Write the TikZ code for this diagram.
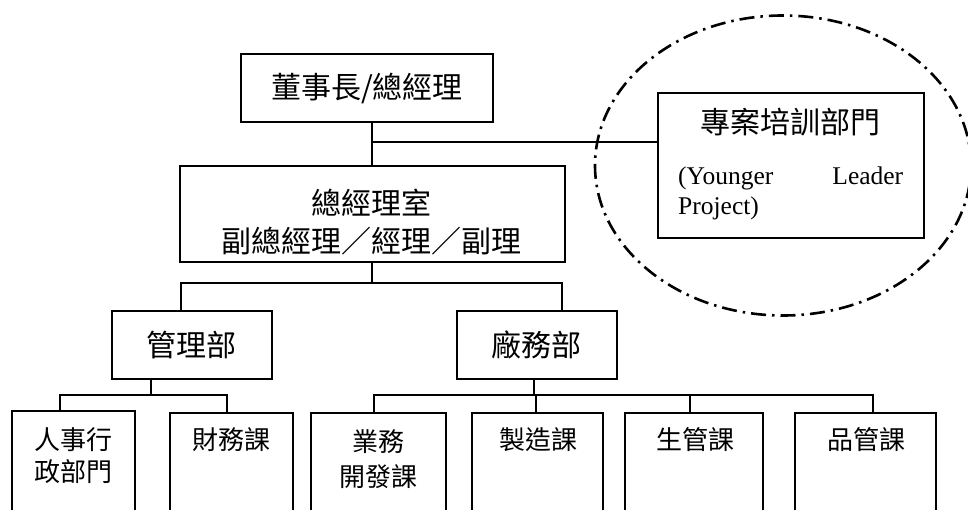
\documentclass[tikz,border=0pt]{standalone}
\usepackage{fontspec}
\setmainfont{Liberation Serif}
\newfontfamily\cjk{Noto Sans CJK TC}
\usetikzlibrary{calc}
\begin{document}
\begin{tikzpicture}[x=1pt,y=-1pt,
  boxshape/.style={draw, line width=2pt, rectangle, inner sep=0pt},
  bigtxt/.style={font=\cjk\fontsize{30}{37.7}\selectfont, inner sep=0pt, align=center},
  smalltxt/.style={font=\cjk\fontsize{26}{33}\selectfont, inner sep=0pt, align=center},
  conn/.style={line width=2pt},
  thinconn/.style={line width=1.4pt},
  ring/.style={line width=2.6pt, dash pattern=on 15pt off 6pt on 2.5pt off 6pt}]
\useasboundingbox (0,0) rectangle (968,510);
\fill[white] (0,0) rectangle (968,510);

% ---- boxes ----
\node[boxshape, bigtxt, minimum width=252pt, minimum height=68pt] (top) at (367,88) {董事長/總經理};
\node[boxshape, minimum width=385pt, minimum height=96pt] (mid) at (372,214.5) {};
\node[bigtxt] (midt) at (371,222) {總經理室\\副總經理／經理／副理};

\node[boxshape, minimum width=266pt, minimum height=145pt] (proj) at (791,165.5) {};
\node[bigtxt] (projt) at (790.7,122) {專案培訓部門};
\node[anchor=north west, inner sep=0pt, font=\fontsize{25.5}{30}\selectfont,
      text width=225pt, align=justify] (projen) at (678,167) {(Younger Leader \mbox{Project)}};

\draw[ring] (783,165.5) ellipse [x radius=188pt, y radius=150pt];

\node[boxshape, bigtxt, minimum width=160pt, minimum height=68pt] (mgmt) at (191.7,344.9) {管理部};
\node[boxshape, bigtxt, minimum width=160pt, minimum height=68pt] (fac) at (536.7,344.9) {廠務部};

\node[boxshape, anchor=north, minimum width=123.3pt, minimum height=140pt] (hr) at (73.3,410) {};
\node[boxshape, anchor=north, minimum width=122.7pt, minimum height=140pt] (fin) at (231.3,412) {};
\node[boxshape, anchor=north, minimum width=135pt, minimum height=140pt] (biz) at (378.2,412) {};
\node[boxshape, anchor=north, minimum width=131.6pt, minimum height=140pt] (mfg) at (537.5,412) {};
\node[boxshape, anchor=north, minimum width=138.3pt, minimum height=140pt] (pc) at (694.2,412) {};
\node[boxshape, anchor=north, minimum width=141pt, minimum height=140pt] (qc) at (865.5,412) {};

\node[smalltxt, font=\cjk\fontsize{26}{32}\selectfont] (hrt) at (73.3,456) {人事行\\政部門};
\node[smalltxt] (fint) at (231.7,440) {財務課};
\node[smalltxt, font=\cjk\fontsize{26}{35.5}\selectfont] (bizt) at (378,459) {業務\\開發課};
\node[smalltxt] (mfgt) at (538,440) {製造課};
\node[smalltxt] (pct) at (695,440) {生管課};
\node[smalltxt] (qct) at (866.7,440) {品管課};

% ---- connectors ----
\coordinate (j0) at (372,142);
\draw[conn] (top.south -| mid.north) -- (mid.north);
\draw[thinconn] (j0) -- (j0 -| proj.west);

\coordinate (s1) at (372,283);
\coordinate (s1l) at (181,283);
\coordinate (s1r) at (562,283);
\draw[conn] (mid.south) -- (s1);
\draw[conn] (s1l |- mgmt.north) -- (s1l) -- (s1r) -- (s1r |- fac.north);

\coordinate (s2) at (150.7,395);
\coordinate (s2l) at (60,395);
\coordinate (s2r) at (226.7,395);
\draw[conn] (s2 |- mgmt.south) -- (s2);
\draw[conn] (s2l |- hr.north) -- (s2l) -- (s2r) -- (s2r |- fin.north);

\coordinate (s3) at (534,395);
\coordinate (s3l) at (374,395);
\coordinate (s3a) at (535.7,395);
\coordinate (s3b) at (690,395);
\coordinate (s3r) at (873.3,395);
\draw[conn] (s3 |- fac.south) -- (s3);
\draw[conn] (s3l |- biz.north) -- (s3l) -- (s3r) -- (s3r |- qc.north);
\draw[conn] (s3a) -- (s3a |- mfg.north);
\draw[conn] (s3b) -- (s3b |- pc.north);
\end{tikzpicture}
\end{document}
